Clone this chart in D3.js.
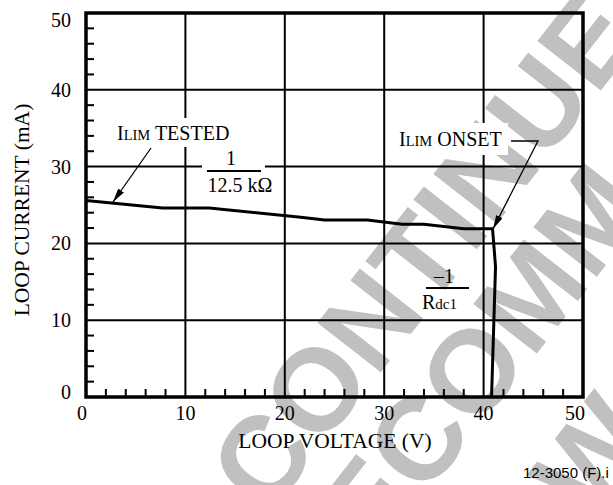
<!DOCTYPE html>
<html><head><meta charset="utf-8">
<script src="https://cdn.jsdelivr.net/npm/d3@7"></script>
<style>html,body{margin:0;padding:0;background:#fff;}svg{display:block;}</style>
</head><body>
<script>
// ---- data ----
const voltage = [0, 7.7, 12.4, 21.6, 24.0, 28.3, 31.8, 34.0, 38.0, 40.9, 41.2, 40.8];
const current = [25.6, 24.6, 24.6, 23.4, 23.05, 23.05, 22.5, 22.5, 21.9, 21.9, 17.0, 0];
const xTickLabels = [0, 10, 20, 30, 40, 50];
const yTickLabels = [0, 10, 20, 30, 40, 50];
const minorTicks = [2,4,6,8,12,14,16,18,22,24,26,28,32,34,36,38,42,44,46,48];
const xTitle = "LOOP VOLTAGE (V)";
const yTitle = "LOOP CURRENT (mA)";
const figId = "12-3050 (F).i";
const watermark = ["CONTINUE", "ECOMM", "W"];

const W = 613, H = 485;
const serif = "'Liberation Serif','Times New Roman',Times,serif";
const sans = "'Liberation Sans',Arial,Helvetica,sans-serif";
const svg = d3.select("body").append("svg").attr("width", W).attr("height", H);
const x = d3.scaleLinear().domain([0, 50]).range([86, 583]);
const y = d3.scaleLinear().domain([0, 50]).range([397, 13]);

// ---- watermark ----
const wm = svg.append("g").attr("fill", "#c0c0c0").attr("font-family", sans)
  .attr("font-weight", "bold").attr("font-size", 117);
const wmPos = [[424, 251], [482, 358], [592, 456]];
watermark.forEach((t, i) => {
  wm.append("text").attr("transform", `translate(${wmPos[i][0]},${wmPos[i][1]}) rotate(-52)`)
    .attr("text-anchor", "middle").attr("dominant-baseline", "central").text(t);
});

// ---- grid ----
const grid = svg.append("g").attr("stroke", "#000").attr("stroke-width", 2);
[10, 20, 30, 40].forEach(v => {
  grid.append("line").attr("x1", x(v)).attr("x2", x(v)).attr("y1", y(50)).attr("y2", y(0));
  grid.append("line").attr("y1", y(v)).attr("y2", y(v)).attr("x1", x(0)).attr("x2", x(50));
});
// minor ticks
const ticks = svg.append("g").attr("stroke", "#000").attr("stroke-width", 2);
minorTicks.forEach(v => {
  ticks.append("line").attr("x1", x(v)).attr("x2", x(v)).attr("y1", y(0)).attr("y2", y(0) - 8);
  ticks.append("line").attr("y1", y(v)).attr("y2", y(v)).attr("x1", x(0)).attr("x2", x(0) + 8);
});

// ---- label backgrounds ----
const bg = svg.append("g").attr("fill", "#fff");
bg.append("rect").attr("x", 112).attr("y", 118).attr("width", 124).attr("height", 29);
bg.append("rect").attr("x", 202).attr("y", 148).attr("width", 63).attr("height", 50);
bg.append("rect").attr("x", 394).attr("y", 123).attr("width", 114).attr("height", 32);

// ---- curve ----
const pts = voltage.map((v, i) => [v, current[i]]);
svg.append("path").datum(pts)
  .attr("d", d3.line().x(d => x(d[0])).y(d => y(d[1])))
  .attr("fill", "none").attr("stroke", "#000").attr("stroke-width", 3)
  .attr("stroke-linejoin", "miter");

// ---- frame ----
svg.append("rect").attr("x", x(0)).attr("y", y(50)).attr("width", x(50) - x(0)).attr("height", y(0) - y(50))
  .attr("fill", "none").attr("stroke", "#000").attr("stroke-width", 3.5);

// ---- tick labels ----
const tl = svg.append("g").attr("font-family", serif).attr("font-size", 20).attr("fill", "#000");
xTickLabels.forEach((v, i) => {
  const dx = i === 0 ? -4 : (i === xTickLabels.length - 1 ? -8 : 0);
  tl.append("text").attr("x", x(v) + dx).attr("y", 420).attr("text-anchor", "middle").text(v);
});
yTickLabels.forEach((v, i) => {
  const dy = i === 0 ? -5 : (i === yTickLabels.length - 1 ? 7 : 0);
  tl.append("text").attr("x", 71).attr("y", y(v) + dy + 7).attr("text-anchor", "end").text(v);
});

// ---- axis titles ----
svg.append("text").attr("x", 335).attr("y", 448).attr("text-anchor", "middle")
  .attr("font-family", serif).attr("font-size", 21.5).text(xTitle);
svg.append("text").attr("transform", "translate(29,210) rotate(-90)").attr("text-anchor", "middle")
  .attr("font-family", serif).attr("font-size", 21.5).text(yTitle);

// ---- annotations ----
function smallCapsLabel(xp, yp, rest) {
  const t = svg.append("text").attr("x", xp).attr("y", yp).attr("font-family", serif).attr("font-size", 20);
  t.append("tspan").text("I");
  t.append("tspan").attr("font-size", 14.5).text("LIM");
  t.append("tspan").text(rest);
  return t;
}
smallCapsLabel(117, 140, " TESTED");
smallCapsLabel(399, 146, " ONSET");

// fraction 1 / 12.5 kΩ
svg.append("text").attr("x", 231).attr("y", 165).attr("text-anchor", "middle")
  .attr("font-family", serif).attr("font-size", 20).text("1");
svg.append("line").attr("x1", 207).attr("x2", 261).attr("y1", 171).attr("y2", 171).attr("stroke", "#000").attr("stroke-width", 2);
svg.append("text").attr("x", 240).attr("y", 192).attr("text-anchor", "middle")
  .attr("font-family", serif).attr("font-size", 20).text("12.5 kΩ");

// fraction −1 / Rdc1
svg.append("text").attr("x", 444).attr("y", 283).attr("text-anchor", "middle")
  .attr("font-family", serif).attr("font-size", 20).text("–1");
svg.append("line").attr("x1", 426).attr("x2", 469).attr("y1", 288).attr("y2", 288).attr("stroke", "#000").attr("stroke-width", 2);
const rd = svg.append("text").attr("x", 422).attr("y", 309).attr("font-family", serif).attr("font-size", 20);
rd.append("tspan").text("R");
rd.append("tspan").attr("font-size", 15).text("dc1");

// arrows
const defs = svg.append("defs");
defs.append("marker").attr("id", "ah").attr("viewBox", "0 0 14 7").attr("refX", 14).attr("refY", 3.5)
  .attr("markerWidth", 14).attr("markerHeight", 7).attr("markerUnits", "userSpaceOnUse").attr("orient", "auto")
  .append("path").attr("d", "M0,0 L14,3.5 L0,7 Z").attr("fill", "#000");
svg.append("line").attr("x1", 151).attr("y1", 148).attr("x2", 113).attr("y2", 202)
  .attr("stroke", "#000").attr("stroke-width", 1.3).attr("marker-end", "url(#ah)");
svg.append("polyline").attr("points", "511,141 538,141 493,229").attr("fill", "none")
  .attr("stroke", "#000").attr("stroke-width", 1.3).attr("marker-end", "url(#ah)");

// figure id
svg.append("text").attr("x", 523).attr("y", 478).attr("font-family", sans).attr("font-size", 15).text(figId);
</script>
</body></html>
